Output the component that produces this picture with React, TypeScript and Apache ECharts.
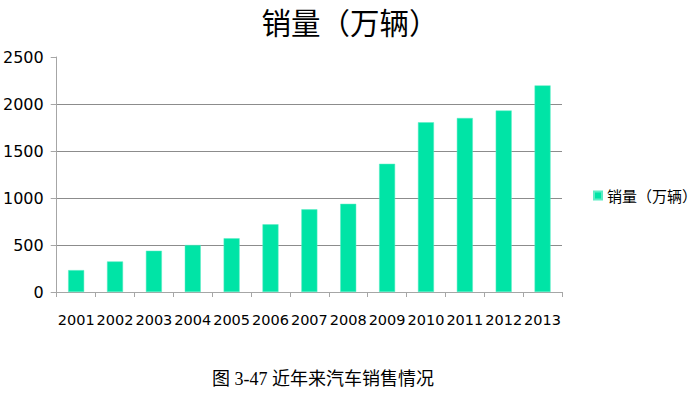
import React, { useEffect, useRef } from "react";
import * as echarts from "echarts";

const years = ["2001", "2002", "2003", "2004", "2005", "2006", "2007", "2008", "2009", "2010", "2011", "2012", "2013"];
const sales = [233, 325, 439, 500, 572, 720, 879, 938, 1364, 1806, 1851, 1931, 2198];
const seriesName = "销量（万辆）";
const chartTitle = "销量（万辆）";
const caption = "图 3-47 近年来汽车销售情况";

export default function App() {
  const ref = useRef<HTMLDivElement>(null);
  useEffect(() => {
    if (!ref.current) return;
    const chart = echarts.init(ref.current, null, { renderer: "svg" });
    chart.setOption({
      animation: false,
      backgroundColor: "#ffffff",
      title: {
        text: chartTitle,
        left: 350,
        textAlign: "center",
        top: 4,
        padding: 0,
        textStyle: { fontFamily: "Noto Sans CJK SC", fontSize: 29.5, fontWeight: "normal", color: "#000", lineHeight: 34 },
      },
      legend: {
        orient: "vertical",
        left: 588,
        top: 183,
        itemWidth: 8,
        itemHeight: 8,
        icon: "rect",
        itemGap: 5,
        textStyle: { fontFamily: "Noto Sans CJK SC", fontSize: 15, color: "#000" },
        data: [seriesName],
      },
      grid: { left: 56, right: 137, top: 57, bottom: 106, containLabel: false },
      xAxis: {
        type: "category",
        data: years,
        boundaryGap: true,
        axisLine: { show: true, lineStyle: { color: "#a6a6a6", width: 1 } },
        axisTick: { show: true, length: 5, lineStyle: { color: "#a6a6a6" } },
        axisLabel: { color: "#000", fontFamily: "DejaVu Sans", fontSize: 14.5, margin: 20, interval: 0 },
      },
      yAxis: {
        type: "value",
        min: 0,
        max: 2500,
        interval: 500,
        axisLine: { show: true, lineStyle: { color: "#a6a6a6", width: 1 } },
        axisTick: { show: true, length: 6, lineStyle: { color: "#a6a6a6" } },
        axisLabel: {
          color: "#000",
          fontFamily: "DejaVu Sans",
          fontSize: 16,
          margin: 13,
          formatter: (v: number) => String(v),
        },
        splitLine: { show: true, showMaxLine: false, lineStyle: { color: "#8c8c8c", width: 1 } },
      },
      series: [
        {
          name: seriesName,
          type: "bar",
          data: sales,
          barWidth: 16,
          itemStyle: { color: "#00e4a6", borderColor: "#5cedc4", borderWidth: 0.5 },
        },
      ],
      graphic: [
        {
          type: "text",
          left: 212,
          top: 370,
          style: {
            text: caption,
            fontFamily: "Liberation Serif, Noto Sans CJK SC",
            fontSize: 18,
            fill: "#000",
          },
        },
      ],
    });
    return () => chart.dispose();
  }, []);
  return <div ref={ref} style={{ position: "fixed", left: 0, top: 0, width: 699, height: 398 }} />;
}
